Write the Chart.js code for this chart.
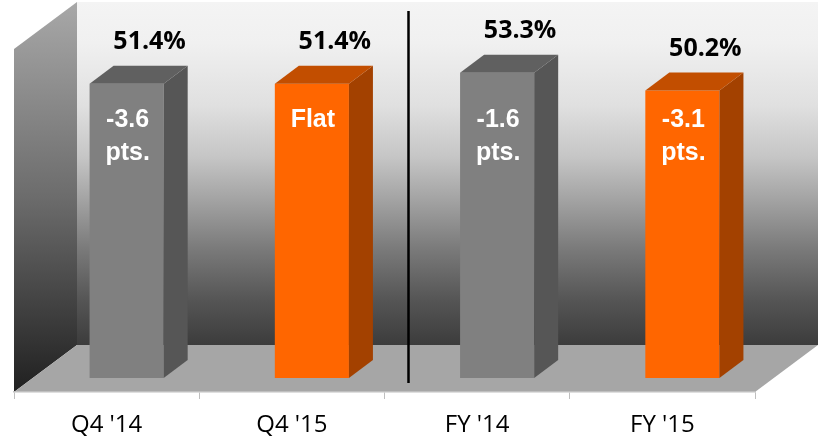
<!DOCTYPE html>
<html>
<head>
<meta charset="utf-8">
<script src="https://cdn.jsdelivr.net/npm/chart.js@4.4.1/dist/chart.umd.min.js"></script>
<style>
  html, body { margin: 0; padding: 0; background: #fff; }
  #wrap { width: 827px; height: 448px; }
</style>
</head>
<body>
<div id="wrap"><canvas id="margin_chart"></canvas></div>
<script>
// data
const periods = ["Q4 '14", "Q4 '15", "FY '14", "FY '15"];
const margins = [51.4, 51.4, 53.3, 50.2];
const changes = [["-3.6", "pts."], ["Flat"], ["-1.6", "pts."], ["-3.1", "pts."]];

// styles
const frontColors = ["#808080", "#ff6600", "#808080", "#ff6600"];
const sideColors = ["#565656", "#a34100", "#565656", "#a34100"];
const topColors = ["#606060", "#c24e00", "#606060", "#c24e00"];

// 3d look
const BAR_DX = 24, BAR_DY = -18;     // depth of a bar
const WALL_DX = 63, WALL_DY = -47;   // depth of the floor
const SHIFT_X = 20, SHIFT_Y = -14;   // bars stand a bit back on the floor

const walls = {
    id: "walls",
    beforeDraw(chart) {
        const {ctx, chartArea} = chart;
        const l = chartArea.left, r = chartArea.right, b = chartArea.bottom;
        const wallTop = 2;
        ctx.save();
        // back wall
        let g = ctx.createLinearGradient(0, wallTop, 0, b + WALL_DY);
        g.addColorStop(0, "#f4f4f4");
        g.addColorStop(0.12, "#f0f0f0");
        g.addColorStop(0.3, "#e0e0e0");
        g.addColorStop(0.45, "#c6c6c6");
        g.addColorStop(0.58, "#a2a2a2");
        g.addColorStop(0.72, "#7a7a7a");
        g.addColorStop(0.87, "#555555");
        g.addColorStop(1, "#3c3c3c");
        ctx.fillStyle = g;
        ctx.fillRect(l + WALL_DX, wallTop, r - l, b + WALL_DY - wallTop);
        // left wall
        g = ctx.createLinearGradient(0, wallTop, 0, b);
        g.addColorStop(0, "#a8a8a8");
        g.addColorStop(0.5, "#6c6c6c");
        g.addColorStop(1, "#202020");
        ctx.fillStyle = g;
        ctx.beginPath();
        ctx.moveTo(l, wallTop - WALL_DY);
        ctx.lineTo(l + WALL_DX, wallTop);
        ctx.lineTo(l + WALL_DX, b + WALL_DY);
        ctx.lineTo(l, b);
        ctx.closePath();
        ctx.fill();
        // floor
        ctx.fillStyle = "#a6a6a6";
        ctx.beginPath();
        ctx.moveTo(l, b);
        ctx.lineTo(r, b);
        ctx.lineTo(r + WALL_DX, b + WALL_DY);
        ctx.lineTo(l + WALL_DX, b + WALL_DY);
        ctx.closePath();
        ctx.fill();
        ctx.restore();
    },
    beforeDatasetsDraw(chart) {
        chart.ctx.save();
        chart.ctx.translate(SHIFT_X, SHIFT_Y);
    },
    afterDatasetsDraw(chart) {
        const ctx = chart.ctx;
        const yScale = chart.scales.y;
        const xScale = chart.scales.x;
        chart.getDatasetMeta(0).data.forEach(function(bar, i) {
            const p = bar.getProps(["x", "y", "base", "width"], true);
            const left = p.x - p.width / 2, right = p.x + p.width / 2;
            // side
            ctx.fillStyle = sideColors[i];
            ctx.beginPath();
            ctx.moveTo(right, p.y);
            ctx.lineTo(right + BAR_DX, p.y + BAR_DY);
            ctx.lineTo(right + BAR_DX, p.base + BAR_DY);
            ctx.lineTo(right, p.base);
            ctx.closePath();
            ctx.fill();
            // top
            ctx.fillStyle = topColors[i];
            ctx.beginPath();
            ctx.moveTo(left, p.y);
            ctx.lineTo(left + BAR_DX, p.y + BAR_DY);
            ctx.lineTo(right + BAR_DX, p.y + BAR_DY);
            ctx.lineTo(right, p.y);
            ctx.closePath();
            ctx.fill();
            // value on top
            ctx.fillStyle = "#000";
            ctx.textAlign = "center";
            ctx.textBaseline = "middle";
            ctx.font = "bold 25px 'Open Sans'";
            ctx.fillText(margins[i].toFixed(1) + "%", p.x + 23, p.y - 42);
            // change inside the bar
            ctx.fillStyle = "#fff";
            ctx.font = "bold 25px 'Liberation Sans'";
            const y0 = yScale.getPixelForValue(45);
            changes[i].forEach(function(line, k) {
                ctx.fillText(line, p.x + 1, y0 + k * 33);
            });
        });
        ctx.restore();

        // divider between quarter and full year
        const sep = (xScale.getPixelForValue(1) + xScale.getPixelForValue(2)) / 2 + 24;
        ctx.save();
        ctx.strokeStyle = "#000";
        ctx.lineWidth = 2.5;
        ctx.beginPath();
        ctx.moveTo(sep, 11);
        ctx.lineTo(sep, chart.chartArea.bottom - 9);
        ctx.stroke();
        ctx.restore();
    }
};

new Chart(document.getElementById("margin_chart").getContext("2d"), {
    type: "bar",
    data: {
        labels: periods,
        datasets: [{
            data: margins,
            backgroundColor: frontColors,
            borderWidth: 0,
            categoryPercentage: 1,
            barPercentage: 0.4
        }]
    },
    options: {
        responsive: true,
        maintainAspectRatio: false,
        animation: false,
        devicePixelRatio: 1,
        layout: { padding: { left: 14, right: 72, top: 37, bottom: 0 } },
        plugins: {
            legend: { display: false },
            title: { display: false },
            tooltip: { enabled: false }
        },
        scales: {
            x: {
                afterFit: function(scale) { scale.height = 56; },
                grid: {
                    offset: true,
                    drawOnChartArea: false,
                    tickLength: 7,
                    color: "#bfbfbf"
                },
                border: { display: true, color: "#bfbfbf", width: 1.5 },
                ticks: {
                    color: "#000",
                    padding: 12,
                    font: { family: "'Open Sans'", size: 24 }
                }
            },
            y: {
                display: false,
                min: 0,
                max: 62
            }
        }
    },
    plugins: [walls]
});
</script>
</body>
</html>
